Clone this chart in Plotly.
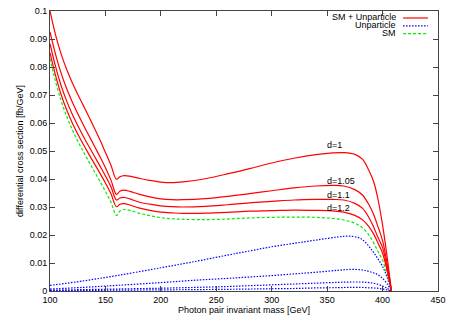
import plotly.graph_objects as go

# ---- data ----
mass = [100, 105, 110, 115, 120, 125, 130, 135, 140, 145, 150, 155, 160, 163, 167, 172,
        180, 190, 200, 210, 220, 240, 260, 280, 300, 320, 340, 355, 365, 375, 382, 388,
        392, 396, 400, 404, 408]

sm_unp_d1 = [0.1000, 0.0915, 0.0847, 0.0792, 0.0745, 0.0703, 0.0663, 0.0623, 0.0582, 0.0540,
             0.0495, 0.0449, 0.0399, 0.0408, 0.0412, 0.0410, 0.0403, 0.0395, 0.0389, 0.0387,
             0.0390, 0.0401, 0.0418, 0.0437, 0.0457, 0.0474, 0.0487, 0.0493, 0.0494, 0.0488,
             0.0470, 0.0428, 0.0390, 0.0325, 0.0235, 0.0125, 0.0]
sm_unp_d105 = [0.0925, 0.0845, 0.0778, 0.0723, 0.0676, 0.0634, 0.0594, 0.0556, 0.0518, 0.0480,
               0.0440, 0.0396, 0.0345, 0.0356, 0.0360, 0.0356, 0.0346, 0.0336, 0.0329, 0.0326,
               0.0326, 0.0330, 0.0338, 0.0348, 0.0358, 0.0368, 0.0375, 0.0377, 0.0375, 0.0362,
               0.0342, 0.0306, 0.0272, 0.0228, 0.0180, 0.0100, 0.0]
sm_unp_d11 = [0.0883, 0.0802, 0.0734, 0.0679, 0.0632, 0.0591, 0.0553, 0.0517, 0.0482, 0.0447,
              0.0411, 0.0372, 0.0325, 0.0332, 0.0334, 0.0329, 0.0318, 0.0310, 0.0304, 0.0301,
              0.0300, 0.0302, 0.0308, 0.0315, 0.0320, 0.0325, 0.0327, 0.0327, 0.0325, 0.0313,
              0.0295, 0.0260, 0.0228, 0.0190, 0.0155, 0.0085, 0.0]
sm_unp_d12 = [0.0851, 0.0770, 0.0702, 0.0647, 0.0601, 0.0561, 0.0524, 0.0489, 0.0455, 0.0421,
              0.0386, 0.0347, 0.0301, 0.0310, 0.0312, 0.0307, 0.0297, 0.0288, 0.0282, 0.0279,
              0.0277, 0.0278, 0.0281, 0.0285, 0.0287, 0.0289, 0.0288, 0.0286, 0.0282, 0.0270,
              0.0254, 0.0228, 0.0203, 0.0170, 0.0135, 0.0075, 0.0]
sm_only = [0.0830, 0.0748, 0.0680, 0.0624, 0.0577, 0.0536, 0.0498, 0.0462, 0.0427, 0.0392,
           0.0356, 0.0317, 0.0270, 0.0285, 0.0291, 0.0288, 0.0278, 0.0269, 0.0262, 0.0258,
           0.0256, 0.0255, 0.0257, 0.0261, 0.0263, 0.0264, 0.0263, 0.0259, 0.0254, 0.0242,
           0.0225, 0.0198, 0.0172, 0.0140, 0.0110, 0.0060, 0.0]

mass_unp = [100, 130, 160, 200, 233, 260, 280, 300, 320, 340, 360, 370, 380, 385, 390, 395,
            400, 404, 408]
unp_d1 = [0.0020, 0.0036, 0.0055, 0.0083, 0.0107, 0.0128, 0.0143, 0.0158, 0.0170, 0.0182,
          0.0193, 0.0196, 0.0188, 0.0172, 0.0148, 0.0120, 0.0088, 0.0050, 0.0]
unp_d105 = [0.0007, 0.0013, 0.0020, 0.0030, 0.0039, 0.0045, 0.0050, 0.0055, 0.0061, 0.0067,
            0.0074, 0.0077, 0.0076, 0.0073, 0.0067, 0.0060, 0.0045, 0.0026, 0.0]
unp_d11 = [0.0003, 0.0005, 0.0007, 0.0010, 0.0013, 0.0016, 0.0019, 0.0022, 0.0025, 0.0028,
           0.0031, 0.0032, 0.0032, 0.0031, 0.0029, 0.0025, 0.0018, 0.0010, 0.0]
unp_d12 = [0.0001, 0.0002, 0.0003, 0.0004, 0.0005, 0.0006, 0.0007, 0.0008, 0.0009, 0.0011,
           0.0012, 0.0013, 0.0013, 0.0012, 0.0011, 0.0010, 0.0007, 0.0004, 0.0]

x_ticks = [100, 150, 200, 250, 300, 350, 400, 450]
y_ticks = [0, 0.01, 0.02, 0.03, 0.04, 0.05, 0.06, 0.07, 0.08, 0.09, 0.1]
y_tick_labels = ["0", "0.01", "0.02", "0.03", "0.04", "0.05", "0.06", "0.07", "0.08", "0.09", "0.1"]

curve_labels = ["d=1", "d=1.05", "d=1.1", "d=1.2"]
label_x = [350, 350, 350, 350]
label_y = [0.0521, 0.0393, 0.0343, 0.0298]

legend_names = ["SM + Unparticle", "Unparticle", "SM"]

RED, BLUE, GREEN = "#ff0000", "#0000ff", "#00ee00"
FONT = "Liberation Sans, Arial, Helvetica, sans-serif"
FS = 9
DOT = "1.5px,1.5px"
DASH = "3px,2px"

fig = go.Figure()
for ys in [unp_d1, unp_d105, unp_d11, unp_d12]:
    fig.add_trace(go.Scatter(x=mass_unp, y=ys, mode="lines", line=dict(color=BLUE, width=1.2, dash=DOT, shape="spline"),
                             showlegend=False, hoverinfo="skip"))
fig.add_trace(go.Scatter(x=mass, y=sm_only, mode="lines", line=dict(color=GREEN, width=1.2, dash=DASH, shape="spline"),
                         showlegend=False, hoverinfo="skip"))
for ys in [sm_unp_d1, sm_unp_d105, sm_unp_d11, sm_unp_d12]:
    fig.add_trace(go.Scatter(x=mass, y=ys, mode="lines", line=dict(color=RED, width=1.2, shape="spline"),
                             showlegend=False, hoverinfo="skip"))

for t, lx, ly in zip(curve_labels, label_x, label_y):
    fig.add_annotation(x=lx, y=ly, text=t, showarrow=False, xanchor="left", yanchor="middle",
                       xshift=-2, font=dict(family=FONT, size=FS, color="#000"))

# gnuplot-style key: text right-aligned, sample to the right
leg_styles = [(RED, "solid"), (BLUE, DOT), (GREEN, DASH)]
row_y = [0.978, 0.950, 0.922]
for name, (col, dash), ry in zip(legend_names, leg_styles, row_y):
    fig.add_annotation(x=0.897, y=ry, xref="paper", yref="paper", text=name, showarrow=False,
                       xanchor="right", yanchor="middle", font=dict(family=FONT, size=FS, color="#000"))
    fig.add_shape(type="line", xref="paper", yref="paper", x0=0.910, x1=0.974, y0=ry - 0.003, y1=ry - 0.003,
                  line=dict(color=col, width=1.2, dash=dash))

axis_common = dict(showline=True, linecolor="#444", linewidth=1, mirror="ticks", ticks="inside",
                   ticklen=5, tickcolor="#444", showgrid=False, zeroline=False,
                   tickfont=dict(family=FONT, size=FS, color="#000"))
fig.update_xaxes(range=[100, 450], tickvals=x_ticks, ticktext=[str(v) for v in x_ticks],
                 title=dict(text="Photon pair invariant mass [GeV]", font=dict(family=FONT, size=FS, color="#000"), standoff=0),
                 **axis_common)
fig.update_yaxes(range=[0, 0.1], tickvals=y_ticks, ticktext=y_tick_labels,
                 title=dict(text="differential cross section [fb/GeV]", font=dict(family=FONT, size=FS, color="#000"), standoff=4),
                 **axis_common)
fig.update_layout(width=454, height=318, margin=dict(l=50, r=16, t=11, b=27, autoexpand=False),
                  plot_bgcolor="white", paper_bgcolor="white")
fig.write_html("out.html", config={"displayModeBar": False, "staticPlot": True},
               post_script="document.body.style.margin='0';document.body.style.overflow='hidden';")
